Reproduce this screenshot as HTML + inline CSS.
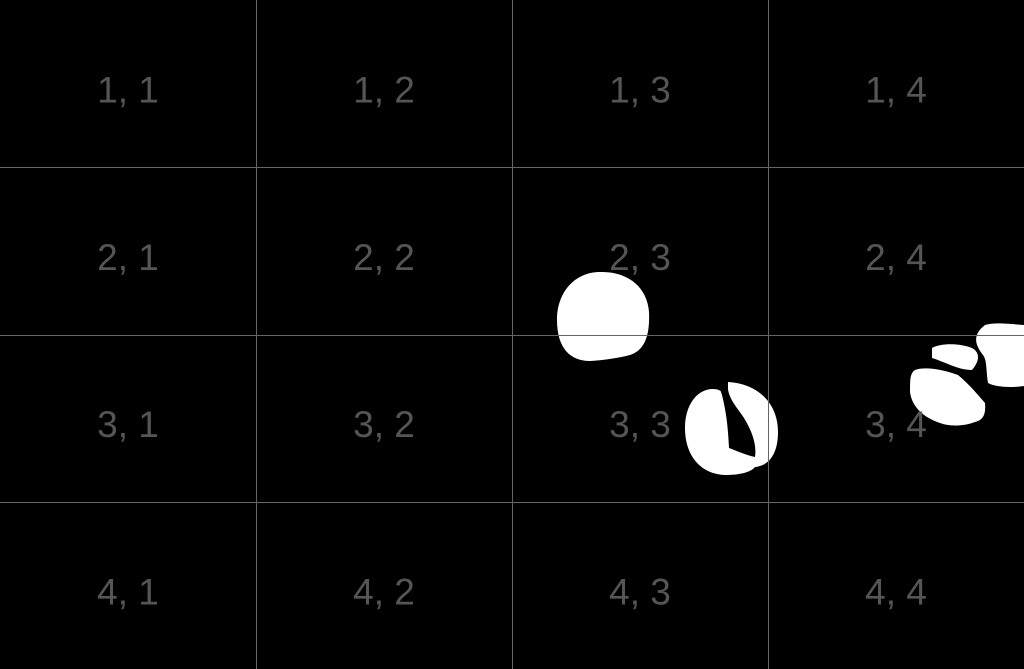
<!DOCTYPE html>
<html><head><meta charset="utf-8"><style>
html,body{margin:0;padding:0;background:#000;width:1024px;height:669px;overflow:hidden}
svg{display:block}
text{font-family:"Liberation Sans",sans-serif;font-size:37px;fill:#555}
</style></head><body>
<svg id="c" width="1024" height="669">
<g id="blobs">
<path fill="#fff" d="M600,272 C625,271 647,285 649,312 C650,335 645,350 630,355 C618,358 605,360 590,361 C570,361 557,348 557,320 C557,292 575,272 600,272 Z"/>
<path fill="#fff" d="M728,382 C760,384 778,405 778,432 C778,455 768,466 755,467 C750,473 738,475 725,475 C700,474 685,455 685,428 C685,405 697,389 713,389 C722,389 727,395 728,405 Z"/>
<path fill="#000" d="M728,382 C726,395 735,405 742,415 C752,430 757,445 755,457 C745,455 735,450 729,448 C728,430 727,415 722,395 L720,389 Z"/>
<path fill="#fff" d="M985,325 C995,322 1010,324 1024,325 L1024,386 C1010,388 995,387 988,383 C986,370 987,360 983,355 C975,345 972,335 985,325 Z"/>
<path fill="#fff" d="M932,348 C940,343 960,343 972,348 C981,353 979,362 972,370 C958,370 945,362 932,358 Z"/>
<path fill="#fff" d="M915,370 C925,366 945,370 958,375 C970,385 978,395 985,403 C986,415 983,420 975,422 C965,426 950,427 940,423 C925,418 912,408 910,392 C910,380 910,373 915,370 Z"/>
</g>
<g id="labels"></g>
<g id="lines"></g>
</svg>
<script>
const rows = [1, 2, 3, 4];
const cols = [1, 2, 3, 4];
const W = 1024, H = 669;
const ns = "http://www.w3.org/2000/svg";
const cw = W / cols.length, rh = H / rows.length;
const lab = document.getElementById('labels');
const lines = document.getElementById('lines');
rows.forEach((r, i) => cols.forEach((c, j) => {
  const t = document.createElementNS(ns, 'text');
  
  
  t.setAttribute('x', (j + 0.5) * cw);
  t.setAttribute('y', (i + 0.5) * rh + 19);
  t.setAttribute('text-anchor', 'middle');
  t.textContent = r + ', ' + c;
  lab.appendChild(t);
}));
for (let j = 1; j < cols.length; j++) {
  const l = document.createElementNS(ns, 'line');
  
  
  const x = Math.round(j * cw) + 0.5;
  l.setAttribute('x1', x); l.setAttribute('x2', x);
  l.setAttribute('y1', 0); l.setAttribute('y2', H);
  l.setAttribute('stroke', '#666'); l.setAttribute('stroke-width', 1);
  lines.appendChild(l);
}
for (let i = 1; i < rows.length; i++) {
  const l = document.createElementNS(ns, 'line');
  
  
  const y = Math.round(i * rh) + 0.5;
  l.setAttribute('x1', 0); l.setAttribute('x2', W);
  l.setAttribute('y1', y); l.setAttribute('y2', y);
  l.setAttribute('stroke', '#666'); l.setAttribute('stroke-width', 1);
  lines.appendChild(l);
}
</script>
</body></html>
